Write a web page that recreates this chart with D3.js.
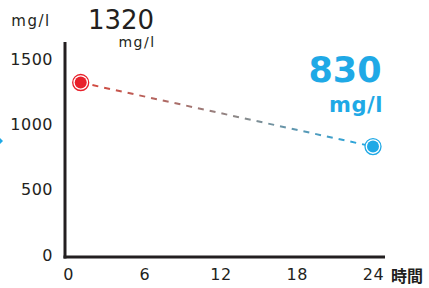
<!DOCTYPE html>
<html>
<head>
<meta charset="utf-8">
<script src="https://cdn.jsdelivr.net/npm/d3@7"></script>
<style>
  body { margin: 0; background: #fff; }
  svg text { font-family: "DejaVu Sans", "Noto Sans CJK JP", sans-serif; }
</style>
</head>
<body>
<div id="chart"></div>
<script>
"use strict";

// data
const hours = [1, 24];
const values = [1320, 830];
const pointColors = ["#e8202a", "#1fa9e6"];
const xTicks = [0, 6, 12, 18, 24];
const yTicks = [0, 500, 1000, 1500];
const unitLabel = "mg/l";
const xLabel = "時間";

const width = 429, height = 288;
const fontStack = '"DejaVu Sans", "Noto Sans CJK JP", sans-serif';

const svg = d3.select("#chart").append("svg")
    .attr("width", width)
    .attr("height", height);

const x = d3.scaleLinear().domain([0, 24]).range([68, 373]);
const y = d3.scaleLinear().domain([0, 1500]).range([255, 59]);

// gradient for the dashed line (red -> blue)
const grad = svg.append("defs").append("linearGradient")
    .attr("id", "lineGrad")
    .attr("gradientUnits", "userSpaceOnUse")
    .attr("x1", x(hours[0])).attr("y1", y(values[0]))
    .attr("x2", x(hours[1])).attr("y2", y(values[1]));
grad.append("stop").attr("offset", "0%").attr("stop-color", "#d8453a");
grad.append("stop").attr("offset", "55%").attr("stop-color", "#8a8a8a");
grad.append("stop").attr("offset", "100%").attr("stop-color", "#1fa9e6");

// axes lines
svg.append("line")
    .attr("x1", 65).attr("x2", 65)
    .attr("y1", 42).attr("y2", 258.5)
    .attr("stroke", "#231f20").attr("stroke-width", 3);
svg.append("line")
    .attr("x1", 63.5).attr("x2", 385)
    .attr("y1", 257).attr("y2", 257)
    .attr("stroke", "#231f20").attr("stroke-width", 3);

// tick labels via d3 axes (no domain, no tick lines)
const xAxis = svg.append("g")
    .attr("transform", "translate(0,268)")
    .call(d3.axisBottom(x).tickValues(xTicks).tickFormat(d3.format("d")).tickSize(0).tickPadding(0));
xAxis.select(".domain").remove();
xAxis.selectAll("text")
    .attr("dy", "0.73em")
    .attr("font-size", 16)
    .attr("letter-spacing", 0.5)
    .attr("fill", "#231f20")
    .style("font-family", fontStack);

const yAxis = svg.append("g")
    .attr("transform", "translate(53,0)")
    .call(d3.axisLeft(y).tickValues(yTicks).tickFormat(d3.format("d")).tickSize(0).tickPadding(0));
yAxis.select(".domain").remove();
yAxis.selectAll("text")
    .attr("font-size", 16)
    .attr("letter-spacing", 0.5)
    .attr("fill", "#231f20")
    .style("font-family", fontStack);

// axis titles
svg.append("text")
    .attr("x", 31).attr("y", 26)
    .attr("text-anchor", "middle")
    .attr("font-size", 15).attr("letter-spacing", 1.5).attr("fill", "#231f20")
    .text(unitLabel);
svg.append("text")
    .attr("x", 391).attr("y", 282)
    .attr("font-size", 16).attr("font-weight", "bold").attr("fill", "#231f20")
    .style("font-family", '"Noto Sans CJK JP", sans-serif')
    .text(xLabel);

// dashed connecting line
const points = hours.map((h, i) => ({ h: h, v: values[i], c: pointColors[i] }));
svg.append("path")
    .datum(points)
    .attr("d", d3.line().x(d => x(d.h)).y(d => y(d.v)))
    .attr("fill", "none")
    .attr("stroke", "url(#lineGrad)")
    .attr("stroke-width", 2)
    .attr("stroke-dasharray", "6,6");

// points: outer ring + filled core
const pts = svg.selectAll(".pt").data(points).enter().append("g")
    .attr("transform", d => `translate(${x(d.h)},${y(d.v)})`);
pts.append("circle").attr("r", 8)
    .attr("fill", "#fff").attr("stroke", d => d.c).attr("stroke-width", 1.3);
pts.append("circle").attr("r", 6).attr("fill", d => d.c);

// value callouts
svg.append("text")
    .attr("x", 121).attr("y", 29)
    .attr("text-anchor", "middle")
    .attr("font-size", 26).attr("fill", "#231f20")
    .text(values[0]);
svg.append("text")
    .attr("x", 137).attr("y", 47)
    .attr("text-anchor", "middle")
    .attr("font-size", 14).attr("letter-spacing", 1.5).attr("fill", "#231f20")
    .text(unitLabel);

svg.append("text")
    .attr("x", 345).attr("y", 82)
    .attr("text-anchor", "middle")
    .attr("font-size", 35).attr("font-weight", "bold").attr("fill", pointColors[1])
    .text(values[1]);
svg.append("text")
    .attr("x", 356).attr("y", 112)
    .attr("text-anchor", "middle")
    .attr("font-size", 21).attr("font-weight", "bold").attr("letter-spacing", 0.5).attr("fill", pointColors[1])
    .text(unitLabel);

// small clipped blue marker at left edge
svg.append("path")
    .attr("d", "M0,138 L3,141 L0,144 Z")
    .attr("fill", pointColors[1]);
</script>
</body>
</html>
